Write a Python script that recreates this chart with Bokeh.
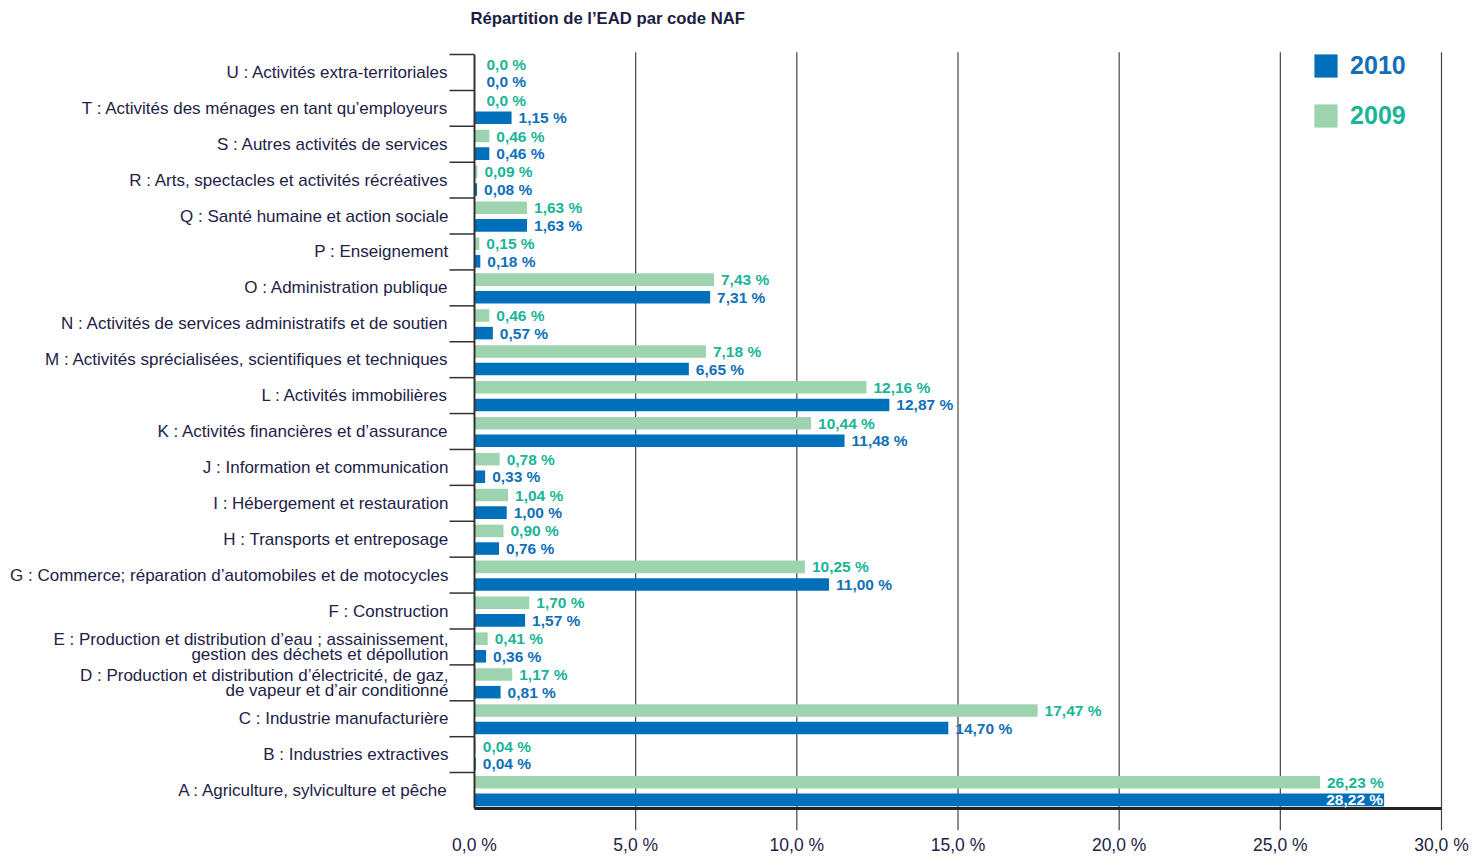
from bokeh.plotting import figure
from bokeh.models import ColumnDataSource, Range1d, FixedTicker, Label, Legend, LegendItem
from bokeh.core.properties import value
from bokeh.embed import file_html
from bokeh.resources import INLINE

# ---------------- data ----------------
categories = [
    "A : Agriculture, sylviculture et pêche",
    "B : Industries extractives",
    "C : Industrie manufacturière",
    "D : Production et distribution d’électricité, de gaz,\nde vapeur et d’air conditionné",
    "E : Production et distribution d’eau ; assainissement,\ngestion des déchets et dépollution",
    "F : Construction",
    "G : Commerce; réparation d’automobiles et de motocycles",
    "H : Transports et entreposage",
    "I : Hébergement et restauration",
    "J : Information et communication",
    "K : Activités financières et d’assurance",
    "L : Activités immobilières",
    "M : Activités sprécialisées, scientifiques et techniques",
    "N : Activités de services administratifs et de soutien",
    "O : Administration publique",
    "P : Enseignement",
    "Q : Santé humaine et action sociale",
    "R : Arts, spectacles et activités récréatives",
    "S : Autres activités de services",
    "T : Activités des ménages en tant qu’employeurs",
    "U : Activités extra-territoriales",
]
values_2010 = [28.22, 0.04, 14.70, 0.81, 0.36, 1.57, 11.00, 0.76, 1.00, 0.33, 11.48,
               12.87, 6.65, 0.57, 7.31, 0.18, 1.63, 0.08, 0.46, 1.15, 0.0]
values_2009 = [26.23, 0.04, 17.47, 1.17, 0.41, 1.70, 10.25, 0.90, 1.04, 0.78, 10.44,
               12.16, 7.18, 0.46, 7.43, 0.15, 1.63, 0.09, 0.46, 0.0, 0.0]
years = ["2010", "2009"]
x_ticks = [0, 5, 10, 15, 20, 25, 30]
x_tick_labels = ["0,0 %", "5,0 %", "10,0 %", "15,0 %", "20,0 %", "25,0 %", "30,0 %"]
title_text = "Répartition de l’EAD par code NAF"

# ---------------- style ----------------
BLUE = "#0070BA"
GREEN = "#9DD3AE"
BLUE_TXT = "#1270B8"
GREEN_TXT = "#19B596"
NAVY = "#1E2247"
FONT = "Liberation Sans"


def fmt(v):
    return "0,0 %" if v == 0 else f"{v:.2f}".replace(".", ",") + " %"


n = len(categories)
idx = list(range(n))
y2010 = [i - 0.26 for i in idx]
y2009 = [i + 0.23 for i in idx]
vmax = max(values_2010 + values_2009)

p = figure(frame_width=1480, frame_height=830,
           x_range=Range1d(-14.705, 31.210), y_range=Range1d(-1.1127, 22.004),
           output_backend="svg", toolbar_location=None, y_axis_location=None,
           min_border_left=0, min_border_right=0, min_border_top=0, min_border_bottom=0)
p.outline_line_color = None
p.grid.visible = False
p.background_fill_color = "white"

# vertical grid lines
p.segment(x0=x_ticks[1:], y0=-1.11, x1=x_ticks[1:], y1=20.56, line_color="#444444", line_width=1.2)

# bars
r09 = p.hbar(y=y2009, left=0, right=values_2009, height=0.35, fill_color=GREEN, line_color=None)
r10 = p.hbar(y=y2010, left=0, right=values_2010, height=0.35, fill_color=BLUE, line_color=None)

# axes lines & category boundary ticks
bounds = [i + 0.5 for i in idx]
p.segment(x0=[-0.776] * n, y0=bounds, x1=[0] * n, y1=bounds, line_color="#333333", line_width=1.5)
p.segment(x0=[0], y0=[-0.5], x1=[0], y1=[20.5], line_color="#333333", line_width=2)
p.segment(x0=[0], y0=[-0.5], x1=[30], y1=[-0.5], line_color="#222222", line_width=3)


# value labels
def label_source(vals, ys, col):
    aligns, offs, cols = [], [], []
    for v in vals:
        if v == vmax:
            aligns.append("right"); offs.append(-1); cols.append("white")
        else:
            aligns.append("left"); offs.append(12 if v == 0 else 7); cols.append(col)
    return ColumnDataSource(dict(x=vals, y=ys, t=[fmt(v) for v in vals],
                                 align=aligns, off=offs, col=cols))


for vals, ys, col in ((values_2009, y2009, GREEN_TXT), (values_2010, y2010, BLUE_TXT)):
    src = label_source(vals, ys, col)
    p.text(x="x", y="y", text="t", source=src, text_align="align", x_offset="off",
           text_color="col", text_baseline="middle", text_font=value(FONT),
           text_font_size="15.5px", text_font_style="bold")

# category labels
p.text(x=[-0.776] * n, y=idx, text=categories, text_align="right", text_baseline="middle",
       text_font=value(FONT), text_font_size="17px", text_color=NAVY, text_line_height=0.82,
       x_offset=-1)

# x axis
p.xaxis.ticker = FixedTicker(ticks=x_ticks)
p.xaxis.major_label_overrides = dict(zip(x_ticks, x_tick_labels))
p.xaxis.axis_line_color = None
p.xaxis.major_tick_line_color = None
p.xaxis.minor_tick_line_color = None
p.xaxis.major_tick_out = 0
p.xaxis.major_tick_in = 0
p.xaxis.major_label_standoff = 4
p.xaxis.major_label_text_font = FONT
p.xaxis.major_label_text_font_size = "17.5px"
p.xaxis.major_label_text_color = NAVY

# title
p.add_layout(Label(x=-0.124, y=21.502, text=title_text, text_baseline="middle",
                   text_font=FONT, text_font_size="16.7px", text_font_style="bold",
                   text_color="#1B1E44"))

# legends
for year, rend, col, bottom in ((years[0], r10, BLUE_TXT, 749.9), (years[1], r09, GREEN_TXT, 699.9)):
    lg = Legend(items=[LegendItem(label=year, renderers=[rend])], location=(1311.1, bottom),
                glyph_width=29, glyph_height=29, label_height=29, label_standoff=10,
                label_text_font=FONT, label_text_font_size="25px", label_text_font_style="bold",
                label_text_color=col, padding=0, margin=0, spacing=0,
                border_line_color=None, background_fill_alpha=0)
    p.add_layout(lg, "center")

open("out.html", "w").write(file_html(p, INLINE))
